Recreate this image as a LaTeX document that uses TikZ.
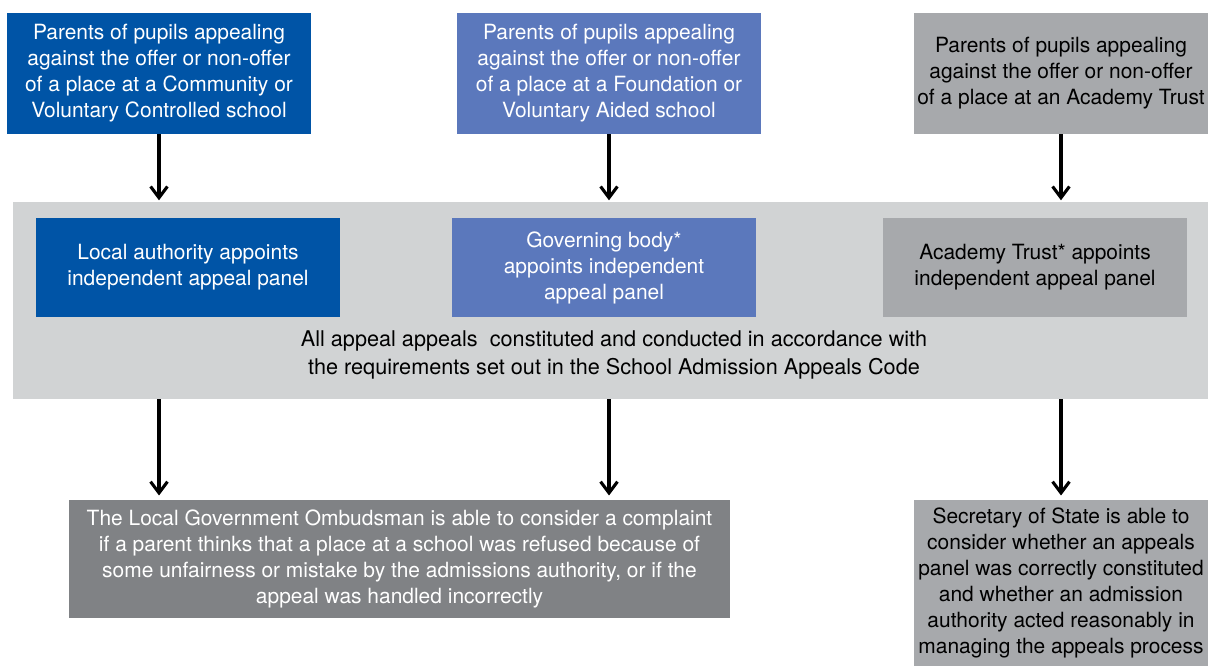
\documentclass[tikz,border=0pt]{standalone}
\usepackage{fontspec}
\setmainfont{TeX Gyre Heros}
\usetikzlibrary{arrows.meta}

\definecolor{darkblue}{HTML}{0054A6}
\definecolor{midblue}{HTML}{5B78BC}
\definecolor{boxgrey}{HTML}{A7A9AC}
\definecolor{bandgrey}{HTML}{D1D3D4}
\definecolor{darkgrey}{HTML}{808285}

\begin{document}
\begin{tikzpicture}
  [x=0.025cm,y=-0.025cm,
   every node/.style={rectangle,inner sep=0pt,align=center,
     font=\fontsize{14.9}{18.5}\selectfont},
   parent/.style={minimum width=7.6cm,minimum height=3.025cm},
   panel/.style={minimum width=7.6cm,minimum height=2.475cm},
   arr/.style={line width=2.2pt,-{Straight Barb[length=8pt,width=12pt]}}]
  \useasboundingbox (0,0) rectangle (1208,666);

  % the grey band behind the panels
  \node[fill=bandgrey,minimum width=29.875cm,minimum height=4.925cm] (band) at (610.5,300.5) {};

  \node[parent,fill=darkblue,text=white] (p1) at (159,73.5)
    {Parents of pupils appealing\\against the offer or non-offer\\of a place at a Community or\\Voluntary Controlled school};
  \node[parent,fill=midblue,text=white] (p2) at (609,73.5)
    {Parents of pupils appealing\\against the offer or non-offer\\of a place at a Foundation or\\Voluntary Aided school};
  \node[parent,fill=boxgrey,minimum width=7.35cm] (p3) at (1061,73.5)
    {Parents of pupils appealing\\against the offer or non-offer\\of a place at an Academy Trust};

  \node[panel,fill=darkblue,text=white] (a1) at (188,267.5)
    {Local authority appoints\\independent appeal panel};
  \node[panel,fill=midblue,text=white] (a2) at (604,267.5)
    {Governing body*\\appoints independent\\appeal panel};
  \node[panel,fill=boxgrey] (a3) at (1035,267.5)
    {Academy Trust* appoints\\independent appeal panel};

  \node[font=\fontsize{15.4}{19.5}\selectfont] (code) at (614,355)
    {All appeal appeals\ \ constituted and conducted in accordance with\\the requirements set out in the School Admission Appeals Code};

  \node[fill=darkgrey,text=white,minimum width=16.525cm,minimum height=2.95cm] (lgo) at (399.5,559)
    {The Local Government Ombudsman is able to consider a complaint\\if a parent thinks that a place at a school was refused because of\\some unfairness or mistake by the admissions authority, or if the\\appeal was handled incorrectly};
  \node[fill=boxgrey,minimum width=7.35cm,minimum height=4.15cm] (sos) at (1061,583)
    {Secretary of State is able to\\consider whether an appeals\\panel was correctly constituted\\and whether an admission\\authority acted reasonably in\\managing the appeals process};

  \foreach \from/\dx in {p1/0,p2/-2,p3/5}
    \draw[arr,shorten >=1pt,xshift=\dx*0.025cm] (\from.south) -- (\from.south |- band.north);

  \foreach \from/\to/\dx in {p1/lgo/-1,p2/lgo/-2,p3/sos/2}
    \draw[arr,shorten >=3pt,xshift=\dx*0.025cm] (\from.south |- band.south) -- (\from.south |- \to.north);

\end{tikzpicture}
\end{document}
